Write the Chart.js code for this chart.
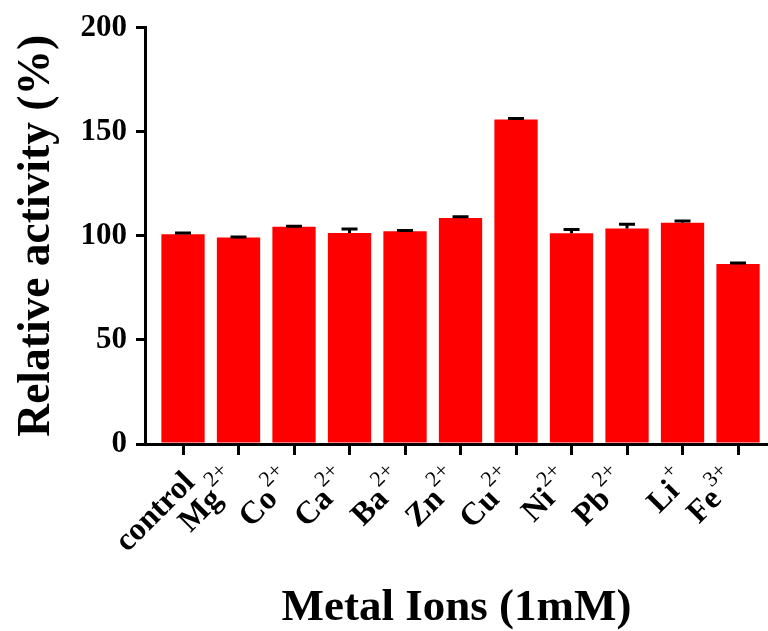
<!DOCTYPE html>
<html lang="en">
<head>
    <meta charset="UTF-8">
    <title>Relative activity - Metal Ions</title>
    <script src="https://cdn.jsdelivr.net/npm/chart.js"></script>
    <style>
        body { margin: 0; background: #fff; }
        #wrap { width: 768px; height: 631px; }
    </style>
</head>
<body>
    <div id="wrap"><canvas id="grafico"></canvas></div>

    <script>
        // ions and their charges (superscripts)
        const ions = ['control', 'Mg', 'Co', 'Ca', 'Ba', 'Zn', 'Cu', 'Ni', 'Pb', 'Li', 'Fe'];
        const charges = ['', '2+', '2+', '2+', '2+', '2+', '2+', '2+', '2+', '+', '3+'];
        // relative activity (%) and error (SD, upper side)
        const activity = [100.8, 99.2, 104.3, 101.3, 102.2, 108.6, 155.8, 101.2, 103.5, 106.3, 86.4];
        const errors = [0.5, 0.2, 0.3, 2.0, 0.3, 0.5, 0.5, 1.8, 2.0, 0.8, 0.5];
        const yTicks = [0, 50, 100, 150, 200];

        const serif = '"Liberation Serif", "Times New Roman", serif';

        // error bars, upward only
        const errorBars = {
            id: 'errorBars',
            afterDatasetsDraw(chart) {
                const { ctx, scales: { x, y } } = chart;
                ctx.save();
                ctx.strokeStyle = '#000';
                ctx.lineWidth = 3;
                activity.forEach((v, i) => {
                    const px = x.getPixelForValue(i);
                    const top = y.getPixelForValue(v + errors[i]);
                    const base = y.getPixelForValue(v);
                    ctx.beginPath();
                    ctx.moveTo(px, base);
                    ctx.lineTo(px, top);
                    ctx.moveTo(px - 8, top);
                    ctx.lineTo(px + 8, top);
                    ctx.stroke();
                });
                ctx.restore();
            }
        };

        // rotated category labels with superscript charges
        const ionLabels = {
            id: 'ionLabels',
            afterDraw(chart) {
                const { ctx, scales: { x } } = chart;
                const baseFont = 'bold 32px ' + serif;
                const supFont = '22px ' + serif;
                ctx.save();
                ctx.fillStyle = '#000';
                ctx.textAlign = 'left';
                ctx.textBaseline = 'alphabetic';
                ions.forEach((name, i) => {
                    ctx.font = baseFont;
                    const wB = ctx.measureText(name).width;
                    ctx.font = supFont;
                    const wS = charges[i] ? ctx.measureText(charges[i]).width : 0;
                    const px = x.getPixelForValue(i) + 13 - 0.5 * wS;
                    ctx.save();
                    ctx.translate(px, 484);
                    ctx.rotate(-Math.PI / 4);
                    const start = -(wB + wS);
                    ctx.font = baseFont;
                    ctx.fillText(name, start, 0);
                    if (charges[i]) {
                        ctx.font = supFont;
                        ctx.fillText(charges[i], start + wB + 1, -17);
                    }
                    ctx.restore();
                });
                ctx.restore();
            }
        };

        const ctx = document.getElementById('grafico').getContext('2d');
        new Chart(ctx, {
            type: 'bar',
            data: {
                datasets: [{
                    data: activity.map((v, i) => ({ x: i, y: v })),
                    backgroundColor: '#ff0000',
                    borderWidth: 0,
                    categoryPercentage: 0.78,
                    barPercentage: 1
                }]
            },
            options: {
                responsive: true,
                maintainAspectRatio: false,
                animation: false,
                layout: { padding: { top: 24, right: 0, bottom: 0, left: 0 } },
                plugins: {
                    legend: { display: false },
                    tooltip: { enabled: false }
                },
                scales: {
                    x: {
                        type: 'linear',
                        min: -0.685,
                        max: 10.54,
                        offset: false,
                        afterFit(scale) { scale.height = 187; },
                        ticks: { display: false, stepSize: 1, includeBounds: false },
                        grid: {
                            offset: false,
                            drawOnChartArea: false,
                            drawTicks: true,
                            tickLength: 11,
                            lineWidth: 3,
                            color: '#000'
                        },
                        border: { display: true, color: '#000', width: 3 },
                        title: {
                            display: true,
                            text: 'Metal Ions (1mM)',
                            color: '#000',
                            font: { family: serif, size: 45, weight: 'bold', lineHeight: 1 },
                            padding: { top: 0, bottom: 0 }
                        }
                    },
                    y: {
                        min: 0,
                        max: 200,
                        afterFit(scale) { scale.width = 145; },
                        afterBuildTicks(scale) { scale.ticks = yTicks.map(v => ({ value: v })); },
                        ticks: {
                            color: '#000',
                            padding: 9,
                            font: { family: serif, size: 31, weight: 'bold' }
                        },
                        grid: {
                            drawOnChartArea: false,
                            drawTicks: true,
                            tickLength: 9,
                            lineWidth: 3,
                            color: '#000'
                        },
                        border: { display: true, color: '#000', width: 3 },
                        title: {
                            display: true,
                            text: 'Relative activity (%)',
                            color: '#000',
                            font: { family: serif, size: 45.5, weight: 'bold', lineHeight: 1 },
                            padding: { top: 14, bottom: 0 }
                        }
                    }
                }
            },
            plugins: [errorBars, ionLabels]
        });
    </script>
</body>
</html>
